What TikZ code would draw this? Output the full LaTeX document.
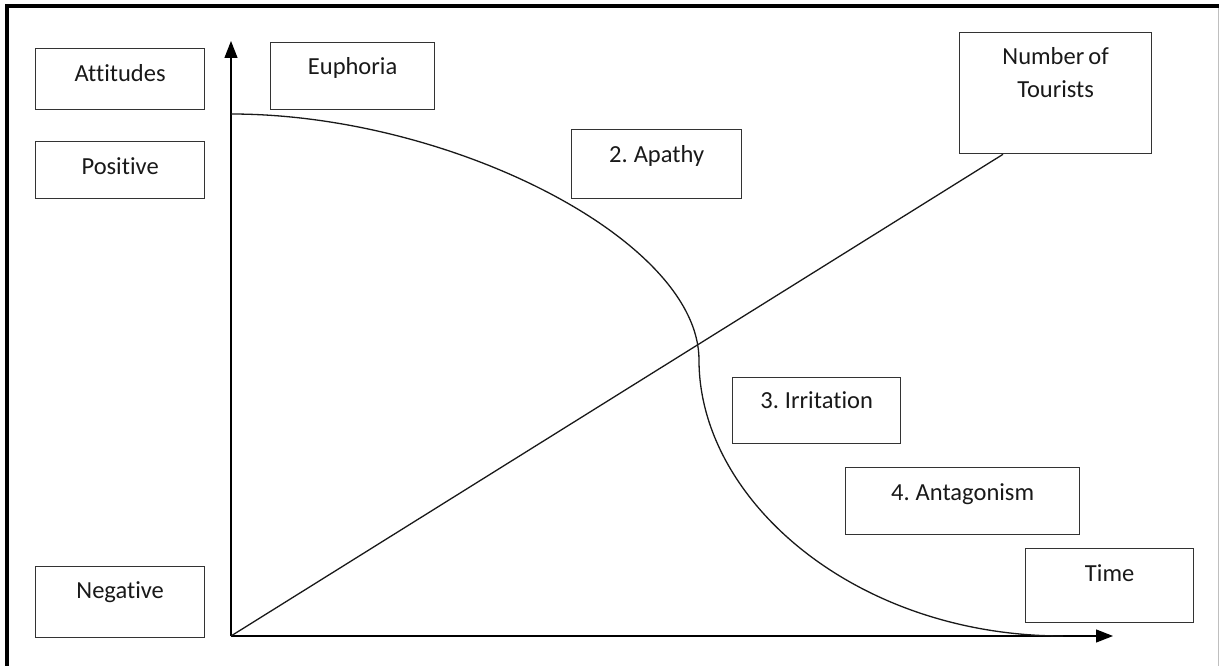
\documentclass[tikz,border=0pt]{standalone}
\usepackage{fontspec}
\setmainfont{Carlito}[Ligatures=NoCommon, WordSpace=0.75]
\usetikzlibrary{calc,arrows.meta}
\begin{document}
\begin{tikzpicture}[x=1pt,y=-1pt,
  box/.style={draw=black!80, line width=1.3pt, inner sep=0pt, anchor=north west},
  lbl/.style={anchor=base, inner sep=0pt, text=black!90, font=\fontsize{24.5}{29}\selectfont},
  axis/.style={draw=black, line width=1.2pt, -{Triangle[length=17pt,width=13pt]}},
  curveline/.style={draw=black!90, line width=1.3pt}]
\useasboundingbox (0,0) rectangle (1219,666);
% frame
\fill[black] (5,4) rectangle (9,666);
\fill[black] (5,4) rectangle (1219,8);
\draw[black!25, line width=1pt] (1218,8) -- (1218,666);
% boxes
\node[box, minimum width=169pt, minimum height=61pt] (att) at (35,48) {};
\node[box, minimum width=169pt, minimum height=57pt] (pos) at (35,141) {};
\node[box, minimum width=169pt, minimum height=71pt] (neg) at (35,566) {};
\node[box, minimum width=164pt, minimum height=67pt] (eup) at (270,42) {};
\node[box, minimum width=192pt, minimum height=121pt] (tour) at (959,32) {};
\node[box, minimum width=170pt, minimum height=69pt] (apa) at (571,129) {};
\node[box, minimum width=168pt, minimum height=66pt] (irr) at (732,377) {};
\node[box, minimum width=234pt, minimum height=67pt] (ant) at (845,467) {};
\node[box, minimum width=168pt, minimum height=74pt] (time) at (1025,548) {};
% labels
\node[lbl] (attT) at ($(att.north)+(0,34)$) {Attitudes};
\node[lbl] (posT) at ($(pos.north)+(0,34)$) {Positive};
\node[lbl] (negT) at ($(neg.north)+(0,32)$) {Negative};
\node[lbl] (eupT) at ($(eup.north)+(0,33)$) {Euphoria};
\node[lbl] (tourT1) at ($(tour.north)+(0,33)$) {Number of};
\node[lbl] (tourT2) at ($(tour.north)+(0,66)$) {Tourists};
\node[lbl] (apaT) at ($(apa.north)+(0,34)$) {2. Apathy};
\node[lbl] (irrT) at ($(irr.north)+(0,31)$) {3. Irritation};
\node[lbl] (antT) at ($(ant.north)+(0,33)$) {4. Antagonism};
\node[lbl] (timeT) at ($(time.north)+(0,33)$) {Time};
% axes
\coordinate (O) at (231,636);
\coordinate (ytop) at (231,41);
\coordinate (xend) at (1113,636);
\draw[axis] (O) -- (ytop);
\draw[axis] (O) -- (xend);
% tourists line
\draw[curveline] (O) -- ($(tour.south west)+(44,0)$);
% attitude curve
\coordinate (c0) at (231,114);
\coordinate (c1) at (699,360);
\coordinate (c2) at (1063,636);
\draw[curveline] (c0) .. controls (450,114) and (699,240) .. (c1)
                      .. controls (699,500) and (855,636) .. (c2);
\end{tikzpicture}
\end{document}
